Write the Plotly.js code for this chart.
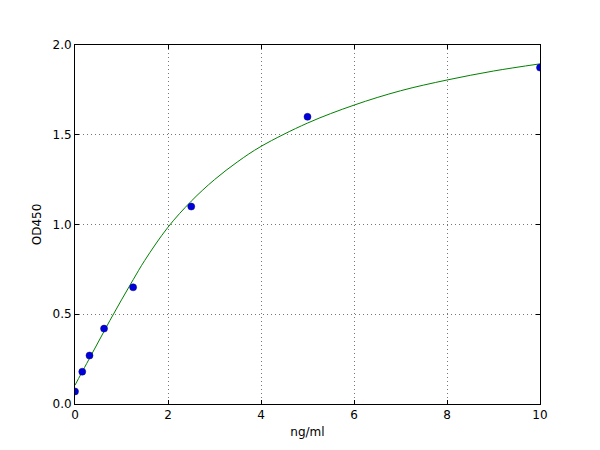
<!DOCTYPE html>
<html>
<head>
<meta charset="utf-8">
<script src="https://cdn.plot.ly/plotly-3.0.1.min.js"></script>
<style>
  html, body { margin: 0; padding: 0; background: #fff; }
  #chart { width: 600px; height: 450px; }
</style>
</head>
<body>
<div id="chart"></div>
<script>
// standard points
var concs = [0, 0.156, 0.312, 0.625, 1.25, 2.5, 5, 10];
var ods = [0.07, 0.18, 0.27, 0.42, 0.65, 1.10, 1.60, 1.874];

// fitted curve
var fitX = [0, 0.25, 0.5, 0.75, 1, 1.25, 1.5, 2, 2.5, 3, 3.5, 4, 5, 6, 7, 8, 9, 10];
var fitY = [0.105, 0.225, 0.345, 0.465, 0.58, 0.692, 0.80, 0.985, 1.13, 1.25, 1.35, 1.435, 1.565, 1.665, 1.745, 1.805, 1.855, 1.895];

var xTicks = [0, 2, 4, 6, 8, 10];
var yTicks = [0, 0.5, 1.0, 1.5, 2.0];

var data = [
    {
        type: 'scatter',
        mode: 'lines',
        x: fitX,
        y: fitY,
        line: {color: '#008000', width: 1, shape: 'spline', smoothing: 1},
        showlegend: false,
        hoverinfo: 'skip'
    },
    {
        type: 'scatter',
        mode: 'markers',
        x: concs,
        y: ods,
        marker: {color: '#0000dd', size: 7, line: {color: '#000080', width: 0.5}},
        showlegend: false
    }
];

var axisBase = {
    showline: true,
    linecolor: '#000',
    linewidth: 1,
    mirror: 'ticks',
    ticks: 'inside',
    ticklen: 4,
    tickcolor: '#000',
    showgrid: true,
    gridcolor: '#777',
    griddash: '1px,3px',
    gridwidth: 1,
    zeroline: false,
    tickfont: {size: 12, color: '#000'}
};

var layout = {
    width: 600,
    height: 450,
    font: {family: 'DejaVu Sans', size: 12, color: '#000'},
    paper_bgcolor: '#fff',
    plot_bgcolor: '#fff',
    margin: {l: 75, r: 60, t: 45, b: 46},
    showlegend: false,
    xaxis: Object.assign({}, axisBase, {
        range: [0, 10],
        tickvals: xTicks,
        ticktext: xTicks.map(String),
        title: {text: 'ng/ml', font: {size: 12}, standoff: 6}
    }),
    yaxis: Object.assign({}, axisBase, {
        range: [0, 2],
        tickvals: yTicks,
        ticktext: yTicks.map(function (v) { return v.toFixed(1); }),
        title: {text: 'OD450', font: {size: 12}, standoff: 8}
    })
};

Plotly.newPlot('chart', data, layout, {displayModeBar: false, staticPlot: true});
</script>
</body>
</html>
